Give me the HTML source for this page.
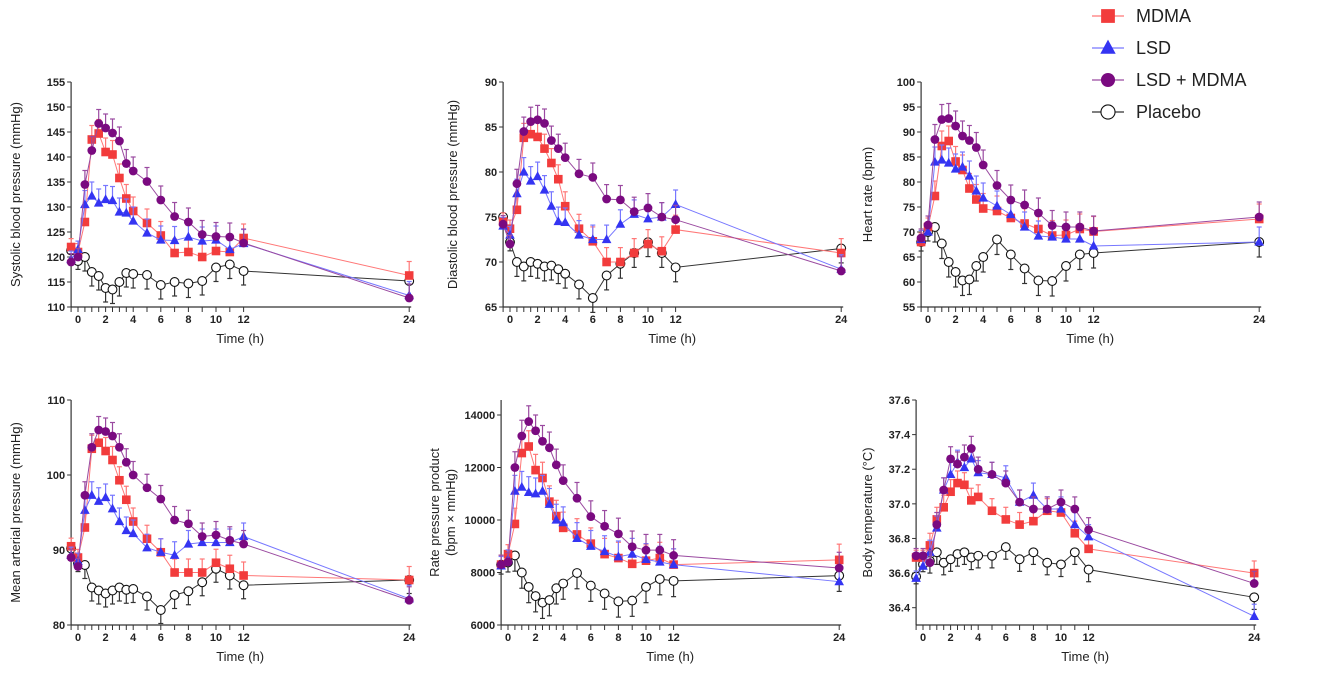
<!DOCTYPE html>
<html><head><meta charset="utf-8"><style>
html,body{margin:0;padding:0;background:#fff;}
svg{display:block;font-family:"Liberation Sans",Arial,sans-serif;}
</style></head><body>
<svg id="s" width="1322" height="686" viewBox="0 0 1322 686" xmlns="http://www.w3.org/2000/svg"></svg>
<script>
const T=[-0.5,0,0.5,1,1.5,2,2.5,3,3.5,4,5,6,7,8,9,10,11,12,24];
const P=[
{x0:78,top:82,bot:307,ymin:110,ymax:155,ticks:[110,115,120,125,130,135,140,145,150,155],title:"Systolic blood pressure (mmHg)",tx:20,err:2.8,
d:[[122,121,127,143.5,144.7,141,140.5,135.8,131.7,129.2,126.8,124.3,120.8,121,120,121.2,121,123.8,116.3],
[119.5,121.5,130.5,132.2,130.8,131.5,131.3,129,128.8,127.2,124.8,123.4,123.3,124,123.2,123.4,121.5,122.7,112.3],
[119,120,134.5,141.3,146.7,145.8,144.8,143.2,138.7,137.2,135.1,131.4,128.1,127,124.5,124.1,124,122.8,111.8],
[121.3,119.2,120,117,116.2,113.8,113.5,115,116.8,116.6,116.4,114.4,115,114.7,115.2,117.9,118.5,117.2,115.2]]},
{x0:510,top:82,bot:307,ymin:65,ymax:90,ticks:[65,70,75,80,85,90],title:"Diastolic blood pressure (mmHg)",tx:457,err:1.6,
d:[[74.5,73.7,75.8,83.8,84.2,83.9,82.6,81,79.2,76.2,73.7,72.3,70,70,71,72,71.2,73.6,71],
[74,73,77.6,80,79,79.5,78,76.2,74.5,74.4,73,72.5,72.5,74.2,75.3,74.8,75,76.4,69.2],
[74.2,72,78.7,84.5,85.6,85.8,85.4,83.5,82.6,81.6,79.8,79.4,77,76.9,75.6,76,75,74.7,69],
[75,72.2,70,69.5,70,69.8,69.5,69.6,69.2,68.7,67.5,66,68.5,69.8,71,72.2,71,69.4,71.5]]},
{x0:928,top:82,bot:307,ymin:55,ymax:100,ticks:[55,60,65,70,75,80,85,90,95,100],title:"Heart rate (bpm)",tx:872,err:3,
d:[[68,71,77.2,87.2,88.2,84.1,82.4,78.7,76.5,74.7,74.2,72.8,71.7,70.6,69.3,69.4,70.6,70.1,72.6],
[68.5,70,84,84.4,83.8,82.6,83,81.2,78.2,76.8,75.2,73.5,71,69.2,69,68.6,68.6,67.2,68],
[68.8,71.4,88.5,92.5,92.7,91.2,89.2,88.3,86.9,83.4,79.3,76.4,75.4,73.8,71.3,71,71,70.2,73],
[68,70,71,67.7,64,62,60.3,60.5,63.2,65,68.5,65.5,62.7,60.3,60.2,63.2,65.5,65.8,68]]},
{x0:78,top:400,bot:625,ymin:80,ymax:110,ticks:[80,90,100,110],title:"Mean arterial pressure (mmHg)",tx:20,err:1.8,
d:[[90.5,89,93,103.5,104.3,103.2,102,99.3,96.7,93.8,91.5,89.7,87,87,87,88.3,87.5,86.6,86],
[89.3,88.5,95.3,97.3,96.5,97,95.5,93.8,92.6,92.2,90.3,89.7,89.3,90.8,91,91,91,91.8,83.5],
[89,87.8,97.3,103.7,106,105.8,105.2,103.7,101.7,100,98.3,96.8,94,93.5,91.8,92,91.3,90.8,83.3],
[90.2,88.2,88,85,84.6,84.2,84.6,85,84.7,84.8,83.8,82,84,84.5,85.7,87.5,86.6,85.3,86]]},
{x0:508,top:400,bot:625,ymin:6000,ymax:14571,ticks:[6000,8000,10000,12000,14000],title:"Rate pressure product",title2:"(bpm × mmHg)",tx:439,err:600,
d:[[8300,8700,9850,12550,12800,11900,11600,10700,10150,9700,9450,9100,8700,8550,8330,8450,8550,8300,8480],
[8250,8500,11100,11250,11050,11000,11100,10600,10000,9900,9300,9000,8800,8600,8700,8500,8400,8300,7650],
[8300,8400,12000,13200,13750,13400,13000,12750,12100,11500,10830,10130,9760,9470,8980,8850,8850,8650,8170],
[8300,8380,8650,8000,7450,7100,6850,6950,7400,7580,7980,7500,7200,6900,6930,7450,7750,7680,7880]]},
{x0:923,top:400,bot:625,ymin:36.3,ymax:37.6,ticks:[36.4,36.6,36.8,37.0,37.2,37.4,37.6],dec:1,title:"Body temperature (°C)",tx:872,err:0.07,
d:[[36.69,36.69,36.76,36.91,36.98,37.07,37.12,37.11,37.02,37.04,36.96,36.91,36.88,36.90,36.96,36.95,36.83,36.74,36.60],
[36.57,36.64,36.72,36.86,37.08,37.17,37.24,37.21,37.26,37.18,37.17,37.15,37.01,37.05,36.97,36.97,36.88,36.81,36.35],
[36.70,36.70,36.66,36.88,37.08,37.26,37.23,37.27,37.32,37.20,37.17,37.12,37.01,36.97,36.97,37.01,36.97,36.85,36.54],
[36.58,36.65,36.67,36.72,36.66,36.68,36.71,36.72,36.69,36.70,36.70,36.75,36.68,36.72,36.66,36.65,36.72,36.62,36.46]]}
];
const COL=["#f23c3c","#3434f2","#7a0a80","#111"];
const LCOL=["#f77","#77f","#9a4aa0","#333"];
const K=13.8;
let h="";
function mk(i,x,y,s){
 s=s||1;
 if(i==0)return `<rect x="${x-4.3*s}" y="${y-4.3*s}" width="${8.6*s}" height="${8.6*s}" fill="${COL[0]}"/>`;
 if(i==1)return `<polygon points="${x},${y-5.2*s} ${x+4.8*s},${y+3.6*s} ${x-4.8*s},${y+3.6*s}" fill="${COL[1]}"/>`;
 if(i==2)return `<circle cx="${x}" cy="${y}" r="${4.4*s}" fill="${COL[2]}"/>`;
 return `<circle cx="${x}" cy="${y}" r="${4.4*s}" fill="#fff" stroke="#111" stroke-width="1.1"/>`;
}
P.forEach(p=>{
 const X=t=>p.x0+t*K, Y=v=>p.bot-(v-p.ymin)/(p.ymax-p.ymin)*(p.bot-p.top);
 const ax=X(-0.5);
 h+=`<line x1="${ax}" y1="${p.top}" x2="${ax}" y2="${p.bot}" stroke="#333" stroke-width="1.2"/>`;
 h+=`<line x1="${ax}" y1="${p.bot}" x2="${X(24)+2}" y2="${p.bot}" stroke="#333" stroke-width="1.2"/>`;
 p.ticks.forEach(v=>{const y=Y(v);h+=`<line x1="${ax-4}" y1="${y}" x2="${ax}" y2="${y}" stroke="#333"/><text x="${ax-6}" y="${y+4}" font-size="11" font-weight="bold" text-anchor="end" fill="#222">${p.dec?v.toFixed(1):v}</text>`;});
 T.forEach(t=>{h+=`<line x1="${X(t)}" y1="${p.bot}" x2="${X(t)}" y2="${p.bot+5}" stroke="#333"/>`;});
 [0,2,4,6,8,10,12,24].forEach(t=>{h+=`<text x="${X(t)}" y="${p.bot+16}" font-size="11" font-weight="bold" text-anchor="middle" fill="#222">${t}</text>`;});
 h+=`<text x="${(ax+X(24))/2}" y="${p.bot+36}" font-size="13" text-anchor="middle" fill="#222">Time (h)</text>`;
 const cy=(p.top+p.bot)/2;
 if(p.title2){h+=`<text transform="translate(${p.tx},${cy}) rotate(-90)" font-size="13" text-anchor="middle" fill="#222">${p.title}</text><text transform="translate(${p.tx+16},${cy}) rotate(-90)" font-size="13" text-anchor="middle" fill="#222">${p.title2}</text>`;}
 else h+=`<text transform="translate(${p.tx},${cy}) rotate(-90)" font-size="13" text-anchor="middle" fill="#222">${p.title}</text>`;
 [3,0,1,2].forEach(i=>{
  const d=p.d[i];
  let pts=d.map((v,j)=>X(T[j])+","+Y(v)).join(" ");
  h+=`<polyline points="${pts}" fill="none" stroke="${LCOL[i]}" stroke-width="1"/>`;
  d.forEach((v,j)=>{const x=X(T[j]),y=Y(v),e=(Y(0+p.ymin)-Y(p.err+p.ymin))*(j==0||j==1?0.6:1);const ye=i==3?y+e:y-e;
   h+=`<line x1="${x}" y1="${y}" x2="${x}" y2="${ye}" stroke="${LCOL[i]}" stroke-width="1.2"/><line x1="${x-2.5}" y1="${ye}" x2="${x+2.5}" y2="${ye}" stroke="${LCOL[i]}" stroke-width="1.2"/>`;});
  d.forEach((v,j)=>{h+=mk(i,X(T[j]),Y(v));});
 });
});
const L=["MDMA","LSD","LSD + MDMA","Placebo"],LY=[16,48,80,112];
L.forEach((n,i)=>{h+=`<line x1="1092" y1="${LY[i]}" x2="1124" y2="${LY[i]}" stroke="${LCOL[i]}" stroke-width="1.2"/>`;
 h+=mk(i,1108,LY[i],1.6);
 h+=`<text x="1136" y="${LY[i]+6}" font-size="18" fill="#222">${n}</text>`;});
document.getElementById("s").innerHTML=h;
</script>
</body></html>
